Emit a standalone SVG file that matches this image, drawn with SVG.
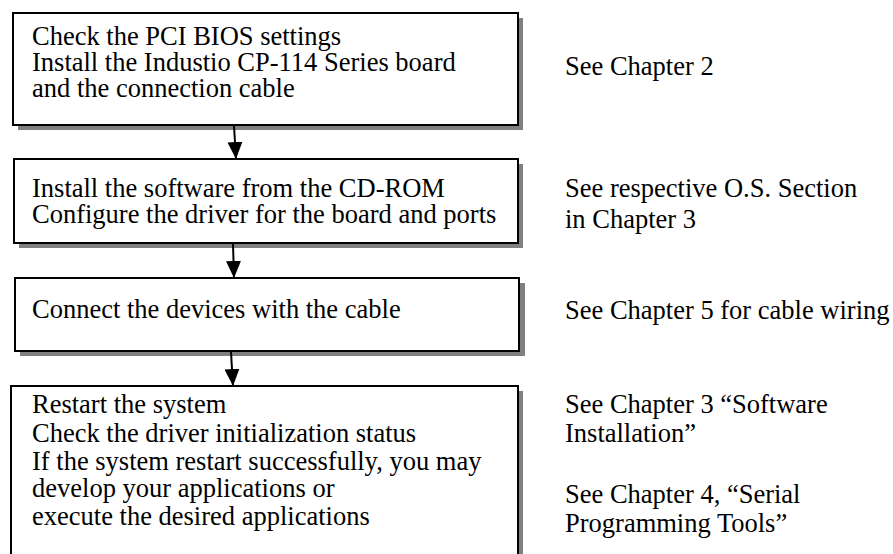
<svg xmlns="http://www.w3.org/2000/svg" width="893" height="554" viewBox="0 0 893 554">
<style>
.shadow{fill:#808080;stroke:none}
.box{fill:#fff;stroke:#000;stroke-width:2}
text{font-family:"Liberation Serif","Times New Roman",serif;font-size:26.5px;fill:#000}
.conn{stroke:#000;stroke-width:2;fill:none}
</style>
<defs>
<marker id="ah" markerWidth="17" markerHeight="15" refX="17" refY="7.5" orient="auto" markerUnits="userSpaceOnUse" viewBox="0 0 17 15">
<path d="M0,0 L17,7.5 L0,15 Z" fill="#000"/>
</marker>
</defs>
<rect width="893" height="554" fill="#fff"/>
<g id="step1">
<rect class="shadow" x="18" y="18" width="505" height="112"/>
<rect class="box" x="13" y="13" width="505" height="112"/>
<text x="32" y="45">Check the PCI BIOS settings</text>
<text x="32" y="71">Install the Industio CP-114 Series board</text>
<text x="32" y="97">and the connection cable</text>
</g>
<g id="step2">
<rect class="shadow" x="19" y="164" width="504" height="84"/>
<rect class="box" x="14" y="159" width="504" height="84"/>
<text x="32" y="197">Install the software from the CD-ROM</text>
<text x="32" y="223">Configure the driver for the board and ports</text>
</g>
<g id="step3">
<rect class="shadow" x="20" y="283" width="505" height="73"/>
<rect class="box" x="15" y="278" width="504" height="73"/>
<text x="32" y="318">Connect the devices with the cable</text>
</g>
<g id="step4">
<rect class="shadow" x="16" y="391" width="507" height="180"/>
<rect class="box" x="11" y="386" width="507" height="180"/>
<text x="32" y="413">Restart the system</text>
<text x="32" y="442">Check the driver initialization status</text>
<text x="32" y="470">If the system restart successfully, you may</text>
<text x="32" y="497">develop your applications or</text>
<text x="32" y="525">execute the desired applications</text>
</g>
<g id="notes">
<text x="565" y="75">See Chapter 2</text>
<text x="565" y="197">See respective O.S. Section</text>
<text x="565" y="228">in Chapter 3</text>
<text x="565" y="319">See Chapter 5 for cable wiring</text>
<text x="565" y="413">See Chapter 3 “Software</text>
<text x="565" y="442">Installation”</text>
<text x="565" y="503">See Chapter 4, “Serial</text>
<text x="565" y="532">Programming Tools”</text>
</g>
<g id="connectors">
<line class="conn" x1="234" y1="126" x2="236" y2="159" marker-end="url(#ah)"/>
<line class="conn" x1="233" y1="244" x2="234" y2="278" marker-end="url(#ah)"/>
<line class="conn" x1="231" y1="352" x2="233" y2="386" marker-end="url(#ah)"/>
</g>
</svg>
